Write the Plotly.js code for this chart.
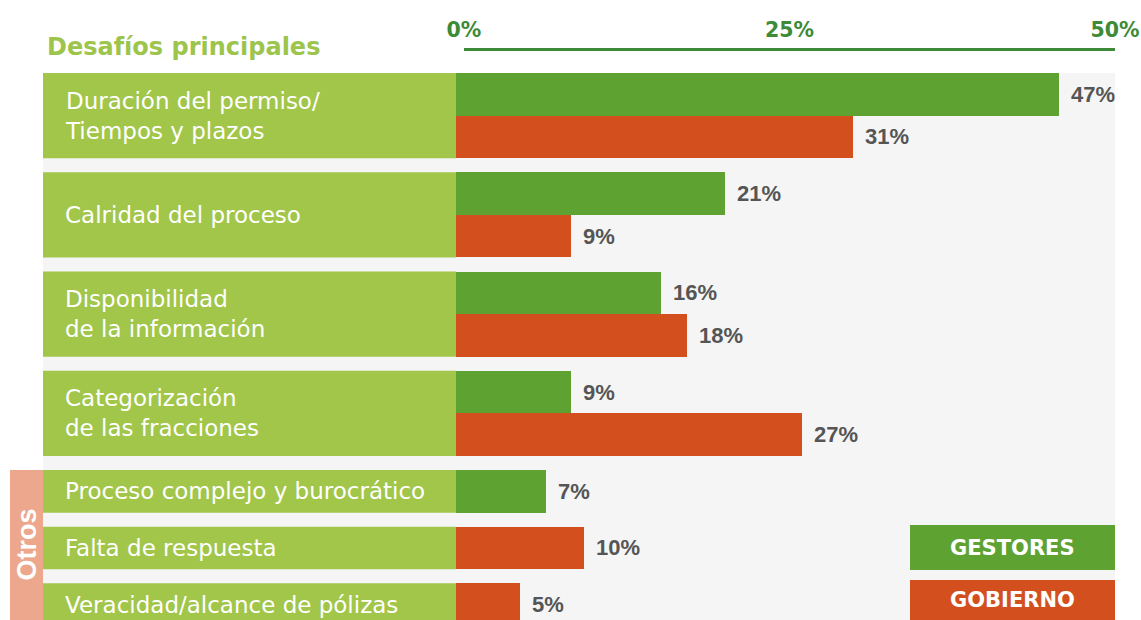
<!DOCTYPE html>
<html>
<head>
<meta charset="utf-8">
<script src="https://cdn.plot.ly/plotly-3.0.1.min.js"></script>
<style>
html,body{margin:0;padding:0;background:#ffffff;}
#chart{width:1141px;height:620px;}
</style>
</head>
<body>
<div id="chart"></div>
<script>
// ---- data ----
const title = "Desafíos principales";
const categories = [
  ["Duración del permiso/", "Tiempos y plazos"],
  ["Calridad del proceso"],
  ["Disponibilidad", "de la información"],
  ["Categorización", "de las fracciones"],
  ["Proceso complejo y burocrático"],
  ["Falta de respuesta"],
  ["Veracidad/alcance de pólizas"]
];
const gestores = [47, 21, 16, 9, 7, null, null];
const gobierno = [31, 9, 18, 27, null, 10, 5];
const seriesNames = ["GESTORES", "GOBIERNO"];
const tickVals = [0, 25, 50];
const tickText = ["0%", "25%", "50%"];
const groupLabel = "Otros";
const groupStart = 4;

// ---- style / geometry ----
const W = 1141, H = 620;
const plotTop = 73;             // px, top of bar area
const unitPx = 42.6;            // px per bar slot
const gap = 0.33;               // gap between rows, in slots
const yLen = (H - plotTop) / unitPx;
const yDomTop = (H - plotTop) / H;
const px = v => v / W;
const pyPaper = p => (H - p) / H;
const uToPaper = u => yDomTop * (1 - u / yLen);

const colG = "#5ea332", colR = "#d44f1e", colLabel = "#a1c64a",
      colPanel = "#f5f5f5", colTitle = "#9dc44b", colAxis = "#3d8b37",
      colOtros = "#eca78d", colVal = "#555555";

// ---- compute row layout from the category structure ----
const series = [gestores, gobierno];
const rows = [];
let cursor = 0;
categories.forEach((c, i) => {
  const bars = [];
  series.forEach((s, k) => { if (s[i] !== null) bars.push({k: k, v: s[i]}); });
  const start = cursor;
  bars.forEach((b, j) => { b.y = start + 0.5 + j; });
  const end = start + bars.length;
  rows.push({start: start, end: end, bars: bars, mid: (start + end) / 2});
  cursor = end + gap;
});

const traces = series.map((s, k) => {
  const xs = [], ys = [];
  rows.forEach(r => r.bars.forEach(b => { if (b.k === k) { xs.push(b.v); ys.push(b.y); } }));
  return {
    type: "bar", orientation: "h", x: xs, y: ys, width: 1,
    marker: {color: k === 0 ? colG : colR, line: {width: 0}},
    name: seriesNames[k], hoverinfo: "x", showlegend: false,
    xaxis: "x", yaxis: "y"
  };
});
// empty trace to activate the top percentage axis
traces.push({type: "scatter", x: [], y: [], xaxis: "x2", yaxis: "y", showlegend: false, hoverinfo: "skip"});

const shapes = [];
shapes.push({type: "rect", layer: "below", xref: "paper", yref: "paper",
  x0: px(43), x1: px(1115), y0: 0, y1: yDomTop, fillcolor: colPanel, line: {width: 0}});
rows.forEach(r => {
  shapes.push({type: "rect", layer: "below", xref: "paper", yref: "paper",
    x0: px(43), x1: px(456), y0: uToPaper(r.end), y1: uToPaper(r.start),
    fillcolor: colLabel, line: {width: 0}});
});
shapes.push({type: "rect", layer: "below", xref: "paper", yref: "paper",
  x0: px(10), x1: px(43), y0: 0, y1: uToPaper(rows[groupStart].start),
  fillcolor: colOtros, line: {width: 0}});
// legend boxes
const legendBoxes = [[525, 570], [580, 626]];
legendBoxes.forEach((b, k) => {
  shapes.push({type: "rect", layer: "above", xref: "paper", yref: "paper",
    x0: px(910), x1: px(1115), y0: pyPaper(b[1]), y1: pyPaper(b[0]),
    fillcolor: k === 0 ? colG : colR, line: {width: 0}});
});

const annotations = [];
annotations.push({xref: "paper", yref: "paper", x: px(45), y: pyPaper(47), xanchor: "left", yanchor: "middle",
  text: "<b>" + title + "</b>", showarrow: false,
  font: {family: "DejaVu Sans", size: 24, color: colTitle}});
categories.forEach((lines, i) => {
  annotations.push({xref: "paper", yref: "y", x: px(63), y: rows[i].mid, xanchor: "left", yanchor: "middle",
    align: "left", text: lines.join("<br>"), showarrow: false,
    font: {family: "DejaVu Sans", size: 23, color: "#ffffff"}});
});
rows.forEach(r => r.bars.forEach(b => {
  annotations.push({xref: "x", yref: "y", x: b.v, y: b.y, xanchor: "left", yanchor: "middle",
    xshift: 10, text: "<b>" + b.v + "%</b>", showarrow: false,
    font: {family: "Liberation Sans", size: 22, color: colVal}});
}));
annotations.push({xref: "paper", yref: "paper", x: px(26.5), y: pyPaper(545), xanchor: "center", yanchor: "middle",
  textangle: -90, text: "<b>" + groupLabel + "</b>", showarrow: false,
  font: {family: "Liberation Sans", size: 27, color: "#ffffff"}});
legendBoxes.forEach((b, k) => {
  annotations.push({xref: "paper", yref: "paper", x: px(1012.5), y: pyPaper((b[0] + Math.min(b[1], H)) / 2),
    xanchor: "center", yanchor: "middle", text: "<b>" + seriesNames[k] + "</b>", showarrow: false,
    font: {family: "DejaVu Sans", size: 21, color: "#ffffff"}});
});

const layout = {
  width: W, height: H,
  margin: {l: 0, r: 0, t: 0, b: 0, pad: 0},
  paper_bgcolor: "#ffffff", plot_bgcolor: "rgba(0,0,0,0)",
  showlegend: false,
  bargap: 0,
  xaxis: {domain: [px(456), px(1115)], range: [0, 659 / 12.82], visible: false, fixedrange: true},
  xaxis2: {domain: [px(464), px(1115)], range: [0, 50], anchor: "free", position: pyPaper(49), side: "top",
    tickvals: tickVals, ticktext: tickText, showline: true, linecolor: colAxis, linewidth: 3,
    ticks: "outside", ticklen: 3, tickcolor: "rgba(0,0,0,0)", showgrid: false, zeroline: false,
    tickfont: {family: "DejaVu Sans", size: 20.5, color: colAxis, weight: "bold"}, fixedrange: true},
  yaxis: {domain: [0, yDomTop], range: [yLen, 0], visible: false, fixedrange: true},
  shapes: shapes,
  annotations: annotations
};

Plotly.newPlot("chart", traces, layout, {displayModeBar: false, staticPlot: true});
</script>
</body>
</html>
